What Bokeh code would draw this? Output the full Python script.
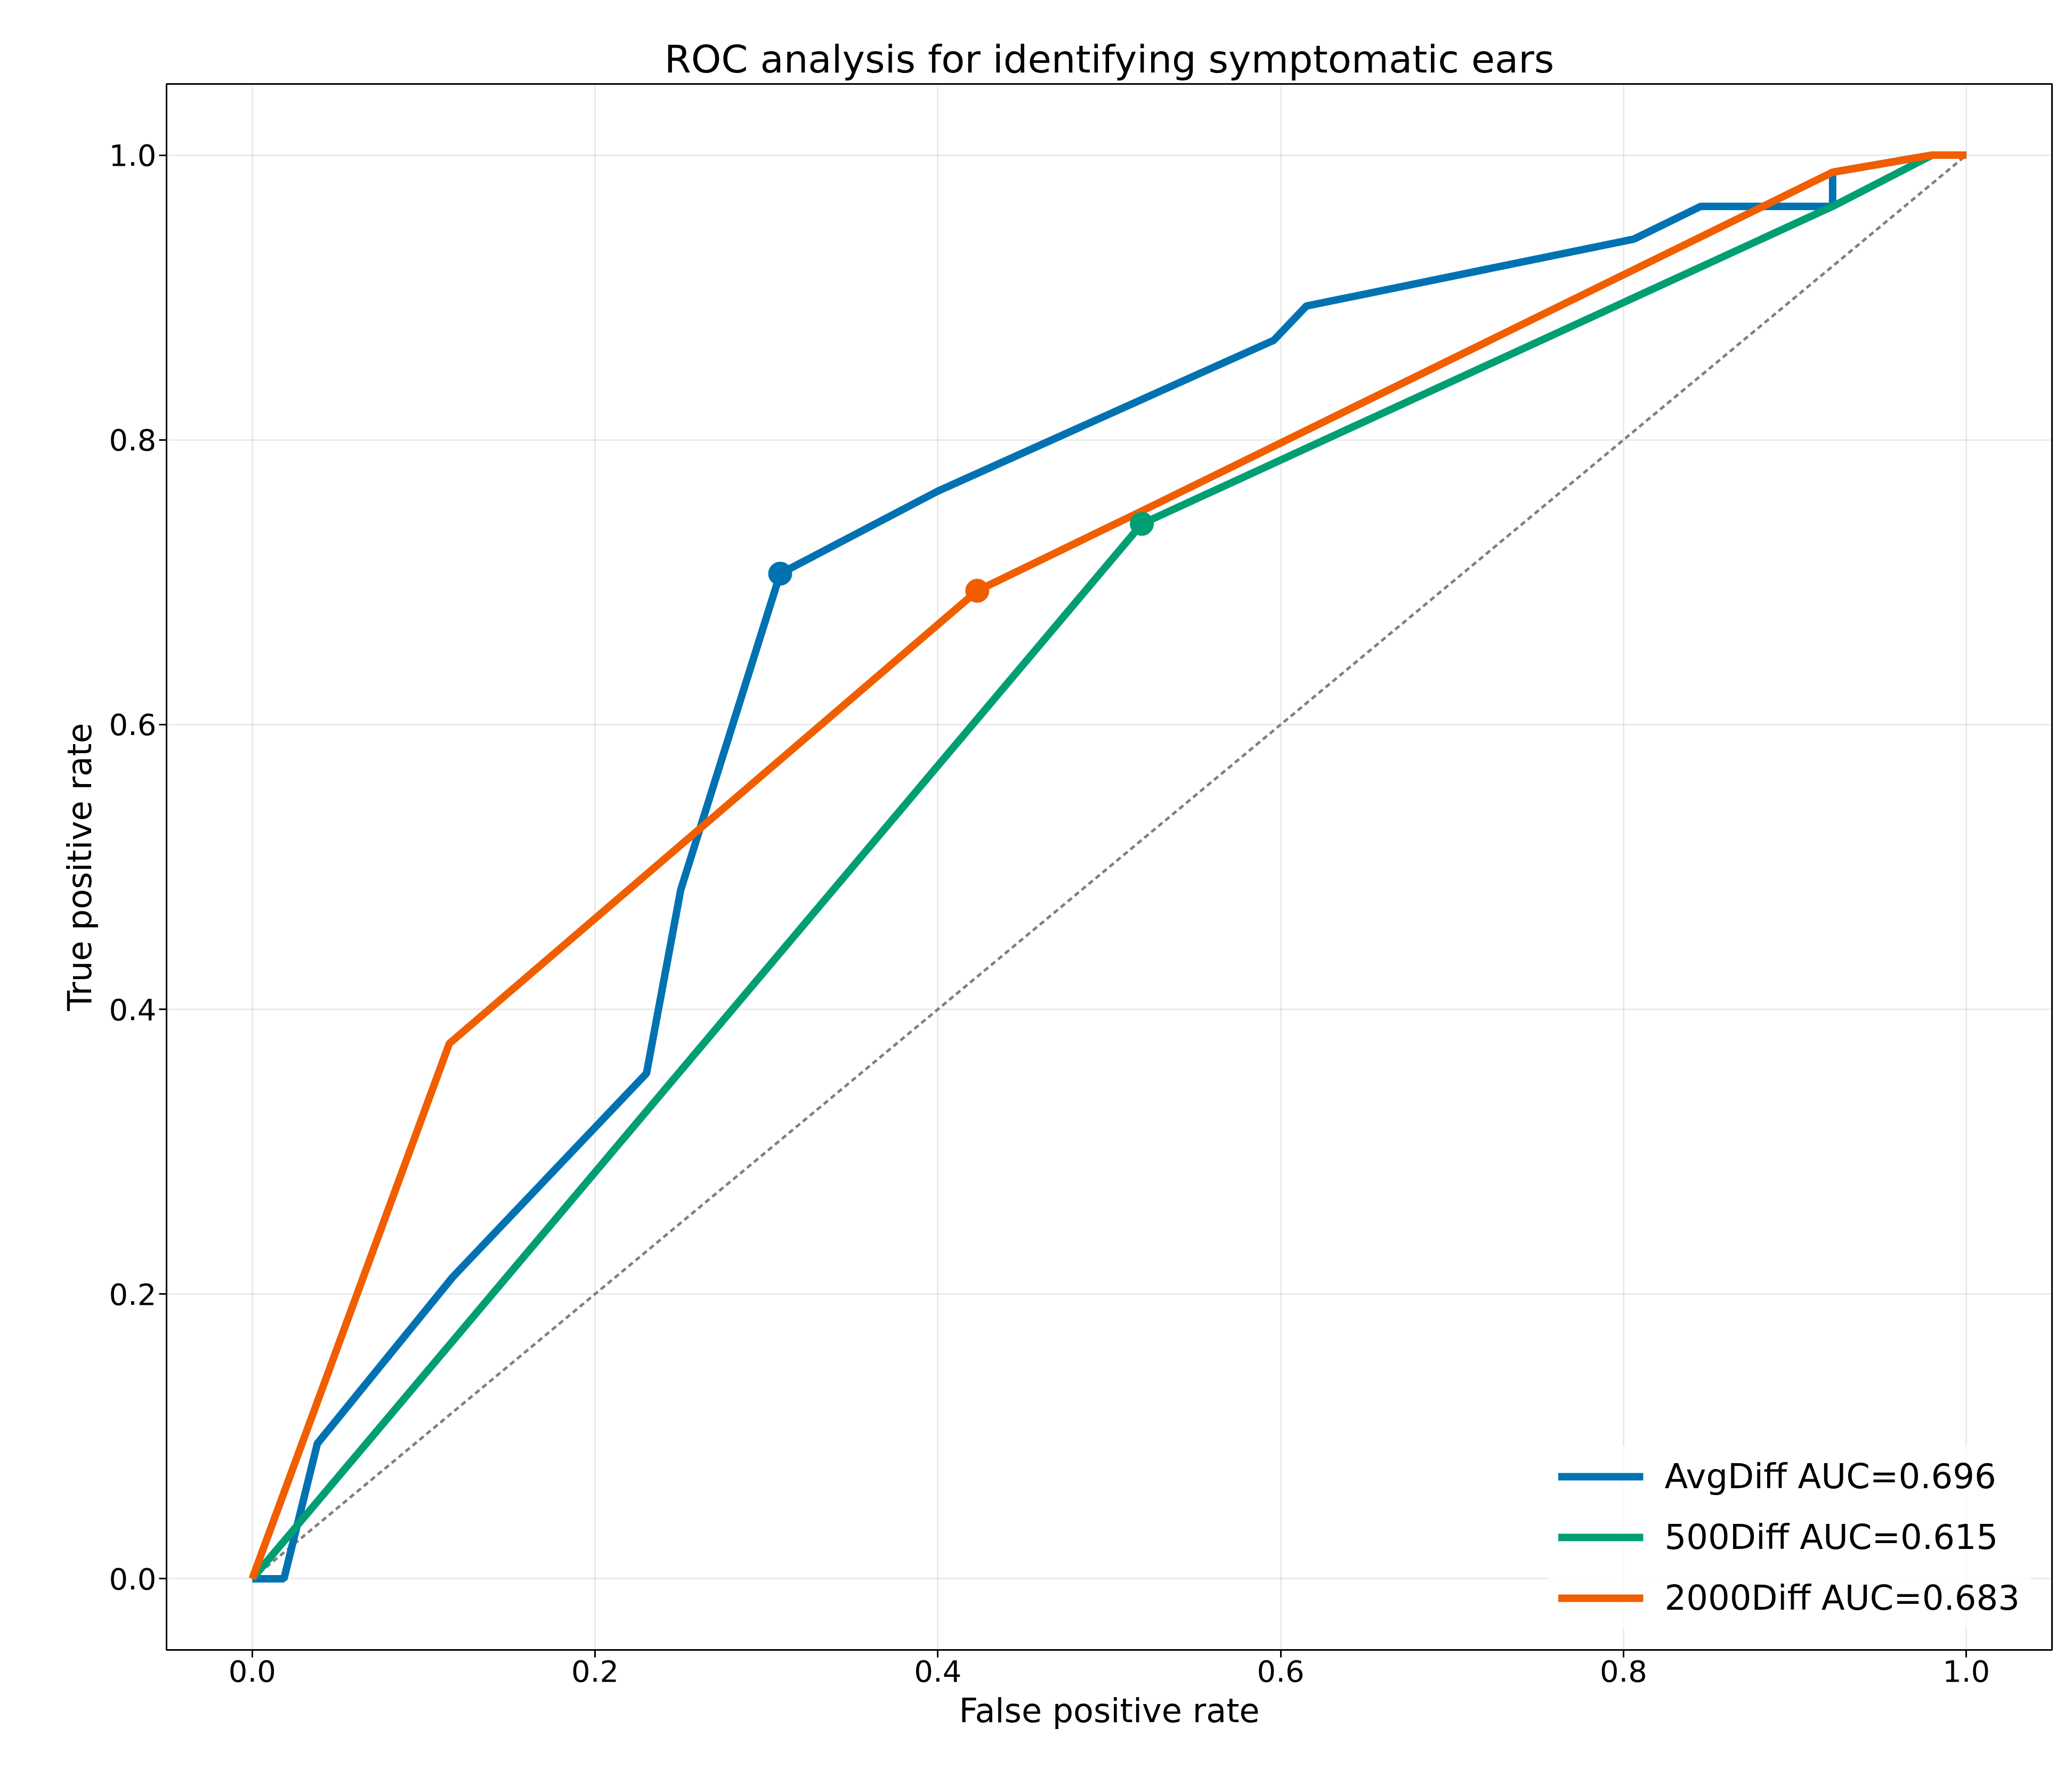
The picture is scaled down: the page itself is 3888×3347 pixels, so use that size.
from bokeh.plotting import figure
from bokeh.models import Range1d, Legend, LegendItem
from bokeh.embed import file_html
from bokeh.resources import INLINE

avg_fpr = [0.0, 0.0185, 0.038, 0.117, 0.230, 0.250, 0.308, 0.400, 0.596, 0.615, 0.806, 0.845, 0.922, 0.922, 0.980, 1.0]
avg_tpr = [0.0, 0.0, 0.095, 0.212, 0.355, 0.484, 0.706, 0.764, 0.870, 0.894, 0.941, 0.964, 0.964, 0.988, 1.0, 1.0]
d500_fpr = [0.0, 0.519, 0.922, 0.980, 1.0]
d500_tpr = [0.0, 0.741, 0.964, 1.0, 1.0]
d2000_fpr = [0.0, 0.115, 0.423, 0.519, 0.922, 0.980, 1.0]
d2000_tpr = [0.0, 0.376, 0.694, 0.750, 0.988, 1.0, 1.0]
opt_fpr = [0.308, 0.519, 0.423]
opt_tpr = [0.706, 0.741, 0.694]
names = ["AvgDiff AUC=0.696", "500Diff AUC=0.615", "2000Diff AUC=0.683"]
colors = ["#0072B2", "#009E73", "#F05E00"]

p = figure(width=3870, height=3330, output_backend="svg", toolbar_location=None,
           x_range=Range1d(-0.05, 1.05), y_range=Range1d(-0.05, 1.05),
           min_border_left=312, min_border_right=20, min_border_top=157, min_border_bottom=235,
           title="ROC analysis for identifying symptomatic ears")
p.title.text_font = "DejaVu Sans"
p.title.text_font_size = "72px"
p.title.text_font_style = "normal"
p.title.text_color = "black"
p.title.align = "center"
p.outline_line_color = "black"
p.outline_line_width = 3
for ax in (p.xaxis, p.yaxis):
    ax.major_label_text_font = "DejaVu Sans"
    ax.major_label_text_font_size = "56px"
    ax.major_label_text_color = "black"
    ax.axis_label_text_font = "DejaVu Sans"
    ax.axis_label_text_font_size = "62px"
    ax.axis_label_text_color = "black"
    ax.axis_label_text_font_style = "normal"
    ax.minor_tick_line_color = None
    ax.major_tick_line_width = 3
    ax.major_tick_out = 14
    ax.major_tick_in = 0
    ax.axis_line_color = None
    ax.axis_label_standoff = 15
p.xaxis.ticker = [0, 0.2, 0.4, 0.6, 0.8, 1.0]
p.yaxis.ticker = [0, 0.2, 0.4, 0.6, 0.8, 1.0]
p.xaxis.major_label_overrides = {0: "0.0", 0.2: "0.2", 0.4: "0.4", 0.6: "0.6", 0.8: "0.8", 1.0: "1.0"}
p.yaxis.major_label_overrides = {0: "0.0", 0.2: "0.2", 0.4: "0.4", 0.6: "0.6", 0.8: "0.8", 1.0: "1.0"}
p.xaxis.axis_label = "False positive rate"
p.yaxis.axis_label = "True positive rate"
p.grid.grid_line_color = "#000000"
p.grid.grid_line_alpha = 0.08
p.grid.grid_line_width = 3

p.line([0, 1], [0, 1], line_dash="10 7", line_color="gray", line_width=5)
r1 = p.line(avg_fpr, avg_tpr, line_color=colors[0], line_width=14)
r2 = p.line(d500_fpr, d500_tpr, line_color=colors[1], line_width=14)
r3 = p.line(d2000_fpr, d2000_tpr, line_color=colors[2], line_width=14)
for i in range(3):
    p.scatter([opt_fpr[i]], [opt_tpr[i]], size=44, color=colors[i])

legend = Legend(items=[LegendItem(label=names[0], renderers=[r1]),
                       LegendItem(label=names[1], renderers=[r2]),
                       LegendItem(label=names[2], renderers=[r3])],
                location="bottom_right")
legend.label_text_font = "DejaVu Sans"
legend.label_text_font_size = "64px"
legend.label_text_color = "black"
legend.label_standoff = 40
legend.glyph_width = 160
legend.glyph_height = 70
legend.spacing = 40
legend.padding = 20
legend.border_line_alpha = 0
legend.background_fill_alpha = 0.8
legend.margin = 40
p.add_layout(legend)

open("out.html", "w").write(file_html(p, INLINE))
